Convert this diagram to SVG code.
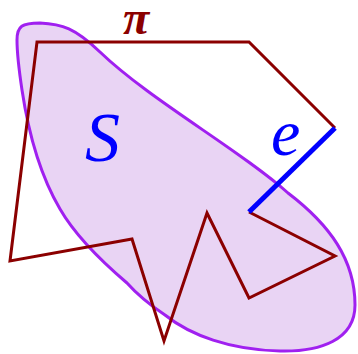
<svg xmlns="http://www.w3.org/2000/svg" width="358" height="354" viewBox="0 0 358 354">
<style>
.blob{fill:#e9d4f4;stroke:#a020f0;stroke-width:3;stroke-linejoin:round}
.pi{fill:none;stroke:#8b0000;stroke-width:3;stroke-linejoin:miter}
.edge{fill:none;stroke:#0000ff;stroke-width:5;stroke-linecap:butt}
.lbl{font-family:"Liberation Serif","DejaVu Serif",serif;font-style:italic}
</style>
<g id="set-S">
<path class="blob" d="M17,40 C17,26 22,23 40,23 C62,24 75,28 100,52 C150,100 240,150 288,193 C330,225 355,260 355,305 C355,340 320,352 280,351 C230,350 190,335 165,315 C150,305 135,292 127,283 C100,260 75,235 60,209 C40,175 28,130 22,90 C19,70 17,55 17,40 Z"/>
</g>
<g id="path-pi">
<polyline class="pi" points="335,128 249,42 37,42 10,261 132,239 164,341 207,213 249,298 335,256 249,212"/>
</g>
<g id="edge-e">
<line class="edge" x1="249" y1="212" x2="335" y2="128"/>
</g>
<g id="labels">
<text class="lbl" x="123" y="34" font-size="48" font-weight="bold" fill="#8b0000">π</text>
<text class="lbl" x="85" y="161" font-size="70" fill="#0000ff">S</text>
<text class="lbl" x="271" y="155" font-size="66" fill="#0000ff">e</text>
</g>
</svg>
